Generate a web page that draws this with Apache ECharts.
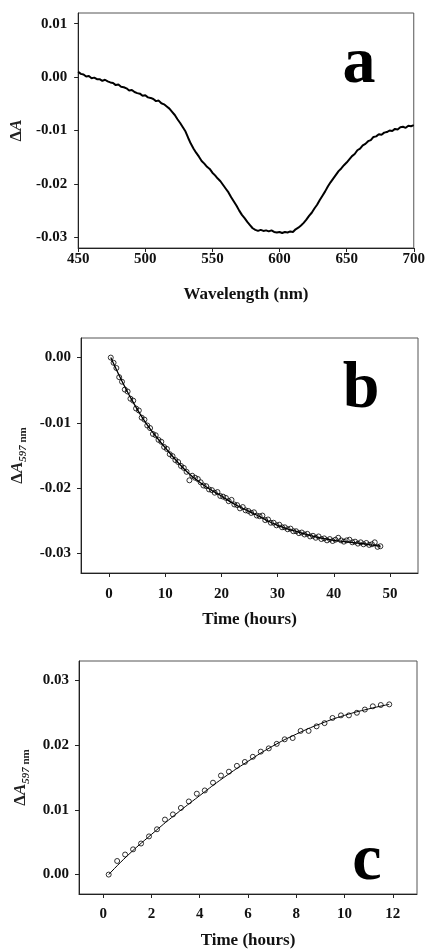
<!DOCTYPE html>
<html>
<head>
<meta charset="utf-8">
<script src="https://cdn.jsdelivr.net/npm/echarts@6/dist/echarts.min.js"></script>
<style>
  html, body { margin: 0; padding: 0; background: #fff; }
  #chart { width: 428px; height: 950px; }
</style>
</head>
<body>
<div id="chart"></div>
<script>
// panel a: difference spectrum
const wavelength = [450,452,454,456,458,460,462,464,466,468,470,472,474,476,478,480,482,484,486,488,
  490,492,494,496,498,500,502,504,506,508,510,512,514,516,518,520,522,524,526,528,
  530,532,534,536,538,540,542,544,546,548,550,552,554,556,558,560,562,564,566,568,
  570,572,574,576,578,580,582,584,586,588,590,592,594,596,598,600,602,604,606,608,
  610,612,614,616,618,620,622,624,626,628,630,632,634,636,638,640,642,644,646,648,
  650,652,654,656,658,660,662,664,666,668,670,672,674,676,678,680,682,684,686,688,
  690,692,694,696,698,700];
const deltaA = [0.0010,0.0006,0.0005,0.0001,0.0002,-0.0002,-0.0001,-0.0004,-0.0004,-0.0007,
  -0.0005,-0.0008,-0.0010,-0.0011,-0.0015,-0.0014,-0.0018,-0.0019,-0.0021,-0.0025,
  -0.0024,-0.0028,-0.0030,-0.0031,-0.0035,-0.0034,-0.0038,-0.0039,-0.0041,-0.0045,
  -0.0044,-0.0049,-0.0051,-0.0055,-0.0059,-0.0065,-0.0071,-0.0079,-0.0086,-0.0094,
  -0.0102,-0.0114,-0.0125,-0.0134,-0.0142,-0.0149,-0.0157,-0.0162,-0.0168,-0.0172,
  -0.0179,-0.0184,-0.0190,-0.0195,-0.0202,-0.0209,-0.0216,-0.0225,-0.0233,-0.0241,
  -0.0250,-0.0258,-0.0264,-0.0271,-0.0277,-0.0283,-0.0286,-0.0288,-0.0286,-0.0288,
  -0.0287,-0.0289,-0.0287,-0.0290,-0.0291,-0.0290,-0.0292,-0.0290,-0.0291,-0.0289,
  -0.0290,-0.0285,-0.0282,-0.0278,-0.0273,-0.0267,-0.0260,-0.0254,-0.0246,-0.0239,
  -0.0230,-0.0222,-0.0214,-0.0205,-0.0197,-0.0190,-0.0183,-0.0176,-0.0171,-0.0165,
  -0.0160,-0.0154,-0.0148,-0.0144,-0.0137,-0.0134,-0.0128,-0.0125,-0.0120,-0.0118,
  -0.0112,-0.0111,-0.0107,-0.0108,-0.0104,-0.0103,-0.0100,-0.0101,-0.0097,-0.0098,
  -0.0094,-0.0093,-0.0095,-0.0091,-0.0092,-0.0090];

// panel b: decay at 597 nm over 48 h
const timeB = [0.3,0.8,1.3,1.8,2.3,2.8,3.3,3.8,4.3,4.8,5.3,5.8,6.3,6.8,7.3,7.8,8.3,8.8,9.3,9.8,
  10.3,10.8,11.3,11.8,12.3,12.8,13.3,13.8,14.3,14.8,15.3,15.8,16.3,16.8,17.3,17.8,18.3,18.8,19.3,19.8,
  20.3,20.8,21.3,21.8,22.3,22.8,23.3,23.8,24.3,24.8,25.3,25.8,26.3,26.8,27.3,27.8,28.3,28.8,29.3,29.8,
  30.3,30.8,31.3,31.8,32.3,32.8,33.3,33.8,34.3,34.8,35.3,35.8,36.3,36.8,37.3,37.8,38.3,38.8,39.3,39.8,
  40.3,40.8,41.3,41.8,42.3,42.8,43.3,43.8,44.3,44.8,45.3,45.8,46.3,46.8,47.3,47.8,48.3];
const deltaB = [0.0000,-0.0008,-0.0016,-0.0030,-0.0037,-0.0049,-0.0052,-0.0063,-0.0066,-0.0078,
  -0.0081,-0.0092,-0.0095,-0.0104,-0.0108,-0.0117,-0.0119,-0.0126,-0.0129,-0.0137,
  -0.0140,-0.0148,-0.0151,-0.0157,-0.0160,-0.0166,-0.0169,-0.0175,-0.0188,-0.0181,
  -0.0184,-0.0186,-0.0191,-0.0196,-0.0197,-0.0202,-0.0203,-0.0207,-0.0206,-0.0212,
  -0.0213,-0.0215,-0.0220,-0.0218,-0.0225,-0.0226,-0.0231,-0.0229,-0.0234,-0.0235,
  -0.0238,-0.0237,-0.0242,-0.0243,-0.0242,-0.0249,-0.0248,-0.0253,-0.0253,-0.0257,
  -0.0256,-0.0260,-0.0260,-0.0263,-0.0262,-0.0266,-0.0266,-0.0269,-0.0268,-0.0271,
  -0.0270,-0.0274,-0.0273,-0.0276,-0.0274,-0.0278,-0.0277,-0.0280,-0.0278,-0.0281,
  -0.0279,-0.0276,-0.0280,-0.0282,-0.0280,-0.0279,-0.0283,-0.0282,-0.0285,-0.0283,
  -0.0286,-0.0284,-0.0287,-0.0286,-0.0283,-0.0290,-0.0289];
const fitTimeB = [0.3,1,2,3,4,6,8,10,12,14,16,18,20,22,24,26,28,30,32,34,36,38,40,42,44,46,48.3];
const fitB = [0,-0.0013,-0.0031,-0.0048,-0.0064,-0.0093,-0.0117,-0.0138,-0.0158,-0.0176,-0.0190,
  -0.0202,-0.0212,-0.0223,-0.0232,-0.0240,-0.0249,-0.0257,-0.0263,-0.0268,-0.0273,-0.0277,
  -0.0280,-0.0282,-0.0284,-0.0286,-0.0289];

// panel c: rise at 597 nm over 12 h
const timeC = [0.23,0.58,0.91,1.24,1.57,1.90,2.23,2.56,2.89,3.22,3.55,3.88,4.21,4.55,4.88,5.21,
  5.54,5.87,6.20,6.53,6.86,7.19,7.52,7.85,8.18,8.51,8.84,9.17,9.50,9.85,10.18,10.51,10.84,11.17,11.50,11.85];
const deltaC = [0.0000,0.0021,0.0031,0.0039,0.0048,0.0059,0.0070,0.0085,0.0093,0.0103,0.0113,0.0125,
  0.0130,0.0142,0.0153,0.0159,0.0168,0.0174,0.0182,0.0190,0.0195,0.0202,0.0209,0.0211,0.0222,0.0222,
  0.0229,0.0234,0.0242,0.0246,0.0246,0.0250,0.0255,0.0260,0.0262,0.0263];
const fitTimeC = [0.23,1,2,3,4,5,6,7,8,9,10,11,11.85];
const fitC = [0,0.0029,0.0062,0.0093,0.0122,0.0150,0.0175,0.0198,0.0217,0.0233,0.0246,0.0256,0.0263];

// tick values
const yTicksA = [-0.03,-0.02,-0.01,0,0.01];
const yTicksB = [-0.03,-0.02,-0.01,0];
const yTicksC = [0,0.01,0.02,0.03];
const xTicksB = [0,10,20,30,40,50];
const xTicksC = [0,2,4,6,8,10,12];

const serif = "'Liberation Serif', 'Times New Roman', serif";
const lab = { fontFamily: serif, fontWeight: 'bold', fontSize: 15, color: '#111' };
const axisLine = { show: true, onZero: false, lineStyle: { color: '#222', width: 1 } };
const tick = { show: true, length: 4, lineStyle: { color: '#222' } };

function fmt(v) { return (Math.abs(v) < 1e-9 ? 0 : v).toFixed(2); }

function zip(a, b) { return a.map((x, i) => [x, b[i]]); }

const yName = '{d|Δ}{a|A}{s|597}{n| nm}';
const yRich = {
  d: { fontFamily: serif, fontWeight: 'bold', fontSize: 17, lineHeight: 20, verticalAlign: 'top' },
  a: { fontFamily: serif, fontWeight: 'bold', fontStyle: 'italic', fontSize: 17, lineHeight: 20, verticalAlign: 'top' },
  s: { fontFamily: serif, fontWeight: 'bold', fontStyle: 'italic', fontSize: 11, lineHeight: 11, verticalAlign: 'bottom' },
  n: { fontFamily: serif, fontWeight: 'bold', fontSize: 11, lineHeight: 11, verticalAlign: 'bottom' }
};

const chart = echarts.init(document.getElementById('chart'));

const option = {
  animation: false,
  backgroundColor: '#fff',
  grid: [
    { left: 78, right: 11, top: 13, height: 235, show: true, borderColor: '#555', borderWidth: 1 },
    { left: 81, right: 10, top: 338, height: 235, show: true, borderColor: '#555', borderWidth: 1 },
    { left: 79, right: 11, top: 661, height: 235, show: true, borderColor: '#555', borderWidth: 1 }
  ],
  xAxis: [
    {
      gridIndex: 0, type: 'value', min: 450, max: 700, interval: 50,
      axisLine: axisLine, axisTick: tick, splitLine: { show: false },
      axisLabel: Object.assign({ margin: 4 }, lab),
      name: 'Wavelength (nm)', nameLocation: 'middle', nameGap: 38,
      nameTextStyle: { fontFamily: serif, fontWeight: 'bold', fontSize: 17, color: '#111' }
    },
    {
      gridIndex: 1, type: 'value', min: -5, max: 55,
      axisLine: axisLine, splitLine: { show: false },
      axisTick: Object.assign({ customValues: xTicksB }, tick),
      axisLabel: Object.assign({ margin: 14, customValues: xTicksB }, lab),
      name: 'Time (hours)', nameLocation: 'middle', nameGap: 38,
      nameTextStyle: { fontFamily: serif, fontWeight: 'bold', fontSize: 17, color: '#111' }
    },
    {
      gridIndex: 2, type: 'value', min: -1, max: 13,
      axisLine: axisLine, splitLine: { show: false },
      axisTick: Object.assign({ customValues: xTicksC }, tick),
      axisLabel: Object.assign({ margin: 13, customValues: xTicksC }, lab),
      name: 'Time (hours)', nameLocation: 'middle', nameGap: 38,
      nameTextStyle: { fontFamily: serif, fontWeight: 'bold', fontSize: 17, color: '#111' }
    }
  ],
  yAxis: [
    {
      gridIndex: 0, type: 'value', min: -0.032, max: 0.012,
      axisLine: axisLine, splitLine: { show: false },
      axisTick: Object.assign({ customValues: yTicksA }, tick),
      axisLabel: Object.assign({ margin: 11, customValues: yTicksA, formatter: fmt }, lab),
      name: '{d|Δ}{a|A}', nameLocation: 'middle', nameGap: 48,
      nameTextStyle: { rich: yRich }
    },
    {
      gridIndex: 1, type: 'value', min: -0.033, max: 0.003,
      axisLine: axisLine, splitLine: { show: false },
      axisTick: Object.assign({ customValues: yTicksB }, tick),
      axisLabel: Object.assign({ margin: 10, customValues: yTicksB, formatter: fmt }, lab),
      name: yName, nameLocation: 'middle', nameGap: 52,
      nameTextStyle: { rich: yRich }
    },
    {
      gridIndex: 2, type: 'value', min: -0.003, max: 0.033,
      axisLine: axisLine, splitLine: { show: false },
      axisTick: Object.assign({ customValues: yTicksC }, tick),
      axisLabel: Object.assign({ margin: 10, customValues: yTicksC, formatter: fmt }, lab),
      name: yName, nameLocation: 'middle', nameGap: 47,
      nameTextStyle: { rich: yRich }
    }
  ],
  series: [
    {
      type: 'line', xAxisIndex: 0, yAxisIndex: 0, data: zip(wavelength, deltaA),
      showSymbol: false, lineStyle: { color: '#000', width: 2 }
    },
    {
      type: 'line', xAxisIndex: 1, yAxisIndex: 1, data: zip(fitTimeB, fitB),
      smooth: true, showSymbol: false, lineStyle: { color: '#000', width: 1.3 }
    },
    {
      type: 'scatter', xAxisIndex: 1, yAxisIndex: 1, data: zip(timeB, deltaB),
      symbol: 'circle', symbolSize: 5,
      itemStyle: { color: 'rgba(0,0,0,0)', borderColor: '#000', borderWidth: 1 }
    },
    {
      type: 'line', xAxisIndex: 2, yAxisIndex: 2, data: zip(fitTimeC, fitC),
      smooth: true, showSymbol: false, lineStyle: { color: '#000', width: 1 }
    },
    {
      type: 'scatter', xAxisIndex: 2, yAxisIndex: 2, data: zip(timeC, deltaC),
      symbol: 'circle', symbolSize: 5,
      itemStyle: { color: 'rgba(0,0,0,0)', borderColor: '#000', borderWidth: 1 }
    }
  ],
  graphic: [
    { type: 'text', x: 359, y: 65, style: { text: 'a', font: "bold 66px 'Liberation Serif'", fill: '#000', align: 'center', verticalAlign: 'middle' } },
    { type: 'text', x: 361, y: 390, style: { text: 'b', font: "bold 66px 'Liberation Serif'", fill: '#000', align: 'center', verticalAlign: 'middle' } },
    { type: 'text', x: 367, y: 862, style: { text: 'c', font: "bold 66px 'Liberation Serif'", fill: '#000', align: 'center', verticalAlign: 'middle' } }
  ]
};

chart.setOption(option);
</script>
</body>
</html>
